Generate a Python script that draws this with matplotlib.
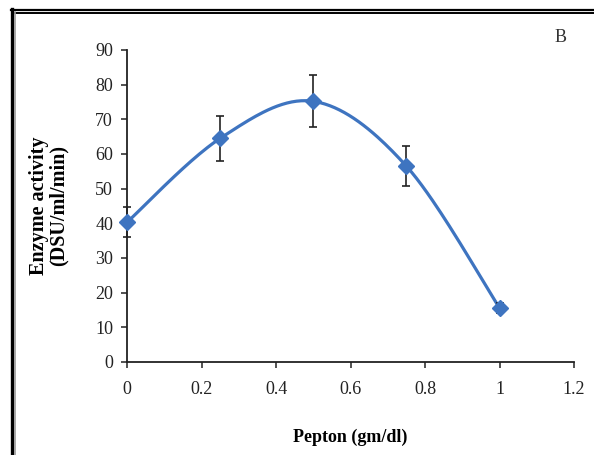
import numpy as np
import matplotlib
matplotlib.use("Agg")
import matplotlib.pyplot as plt
from matplotlib.lines import Line2D

# Enzyme activity vs. peptone concentration
pepton = [0.0, 0.25, 0.5, 0.75, 1.0]
activity = [40.3, 64.5, 75.2, 56.5, 15.6]
error = [4.3, 6.5, 7.5, 5.7, 1.5]
x_ticks = [0, 0.2, 0.4, 0.6, 0.8, 1, 1.2]
x_tick_labels = ["0", "0.2", "0.4", "0.6", "0.8", "1", "1.2"]
y_ticks = [0, 10, 20, 30, 40, 50, 60, 70, 80, 90]

plt.rcParams["font.family"] = ["Liberation Serif", "DejaVu Serif"]

BLUE = "#3e74c0"


def smooth_curve(xs, ys, n=40, tension=1/6):
    """Cubic Bezier smoothing through the points (spreadsheet-style)."""
    xs = np.asarray(xs, float)
    ys = np.asarray(ys, float)
    px = np.concatenate([[xs[0]], xs, [xs[-1]]])
    py = np.concatenate([[ys[0]], ys, [ys[-1]]])
    out_x, out_y = [], []
    t = np.linspace(0, 1, n)
    for i in range(1, len(px) - 2):
        p0 = np.array([px[i], py[i]])
        p3 = np.array([px[i + 1], py[i + 1]])
        c1 = p0 + tension * (np.array([px[i + 1], py[i + 1]]) - np.array([px[i - 1], py[i - 1]]))
        c2 = p3 - tension * (np.array([px[i + 2], py[i + 2]]) - np.array([px[i], py[i]]))
        b = ((1 - t) ** 3)[:, None] * p0 + (3 * (1 - t) ** 2 * t)[:, None] * c1 \
            + (3 * (1 - t) * t ** 2)[:, None] * c2 + (t ** 3)[:, None] * p3
        out_x.extend(b[:, 0])
        out_y.extend(b[:, 1])
    return np.array(out_x), np.array(out_y)


fig = plt.figure(figsize=(5.94, 4.55), dpi=100)
ax = fig.add_axes([127 / 594, 1 - 362 / 455, (574 - 127) / 594, (362 - 50) / 455])

sx, sy = smooth_curve(pepton, activity)
ax.plot(sx, sy, color=BLUE, lw=2.3, solid_capstyle="round", zorder=2, clip_on=False)
ax.errorbar(pepton, activity, yerr=error, fmt="none", ecolor="#222222",
            elinewidth=1.2, capsize=3, capthick=1.2, zorder=3, clip_on=False)
ax.plot(pepton, activity, linestyle="none", marker="D", ms=8.5, color=BLUE,
        zorder=4, clip_on=False)

ax.set_xlim(0, 1.2)
ax.set_ylim(0, 90)
ax.set_xticks(x_ticks)
ax.set_xticklabels(x_tick_labels)
ax.set_yticks(y_ticks)
for side in ("top", "right"):
    ax.spines[side].set_visible(False)
for side in ("left", "bottom"):
    ax.spines[side].set_color("#222222")
    ax.spines[side].set_linewidth(1.3)
ax.tick_params(direction="out", length=4, width=1.1, labelsize=13,
               colors="#222222", pad=6)
ax.tick_params(axis="x", pad=10)

ax.set_xlabel("Pepton (gm/dl)", fontsize=13, fontweight="bold", labelpad=22)
ax.set_ylabel("Enzyme activity\n(DSU/ml/min)", fontsize=14.5, fontweight="bold",
              labelpad=19, linespacing=1.0)

fig.text(561 / 594, 1 - 37 / 455, "B", fontsize=13, ha="center", va="center",
         color="#333333")

# Double-rule frame along the top and left edges
fig.add_artist(Line2D([11 / 594, 1], [1 - 9.5 / 455] * 2, color="black", lw=1.6))
fig.add_artist(Line2D([13 / 594, 1], [1 - 12.5 / 455] * 2, color="black", lw=1.4))
fig.add_artist(Line2D([12 / 594] * 2, [0, 1 - 9 / 455], color="black", lw=2.4))
fig.add_artist(Line2D([14.5 / 594] * 2, [0, 1 - 12 / 455], color="#9a9a9a", lw=1.2))

fig.savefig("out.png", dpi=100)
